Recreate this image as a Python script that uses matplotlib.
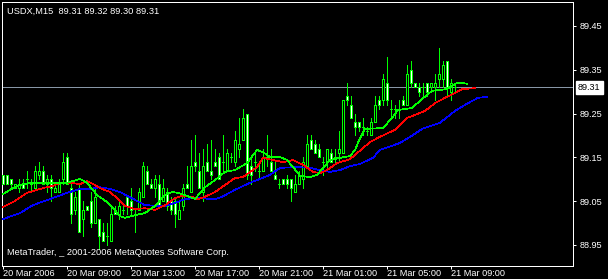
import matplotlib
matplotlib.use("Agg")
import matplotlib.pyplot as plt
import matplotlib.transforms as mtransforms
import numpy as np

plt.rcParams['font.family'] = ['Liberation Sans', 'DejaVu Sans']

# ---- data: USDX M15 candles (bar 0 = 20 Mar 2006 05:00) ----
opens = [89.11, 89.11, 89.10, 89.08, 89.08, 89.09, 89.10, 89.09, 89.08, 89.11,
         89.12, 89.09, 89.10, 89.07, 89.07, 89.10, 89.15, 89.08, 89.03, 89.08,
         89.01, 89.04, 89.05, 89.00, 89.01, 88.98, 88.97, 88.96, 89.03, 89.02,
         89.03, 89.06, 89.05, 89.02, 89.03, 89.06, 89.12, 89.09, 89.08, 89.09,
         89.05, 89.07, 89.05, 89.05, 89.01, 89.04, 89.09, 89.07, 89.14, 89.12,
         89.07, 89.14, 89.12, 89.14, 89.15, 89.14, 89.12, 89.15, 89.14, 89.17,
         89.19, 89.25, 89.13, 89.14, 89.12, 89.12, 89.15, 89.14, 89.11, 89.09,
         89.10, 89.10, 89.10, 89.07, 89.09, 89.10, 89.13, 89.19, 89.18, 89.17,
         89.14, 89.14, 89.16, 89.15, 89.16, 89.16, 89.29, 89.27, 89.23, 89.23,
         89.22, 89.21, 89.20, 89.23, 89.28, 89.28, 89.32, 89.26, 89.26, 89.26,
         89.28, 89.27, 89.35, 89.32, 89.31, 89.31, 89.32, 89.31, 89.31, 89.33,
         89.33, 89.37, 89.30, 89.31]
highs = [89.11, 89.11, 89.10, 89.09, 89.10, 89.10, 89.12, 89.10, 89.13, 89.14,
         89.13, 89.11, 89.11, 89.09, 89.10, 89.16, 89.16, 89.09, 89.07, 89.09,
         89.05, 89.04, 89.07, 89.08, 89.01, 89.00, 89.00, 89.04, 89.04, 89.05,
         89.04, 89.06, 89.08, 89.03, 89.08, 89.14, 89.13, 89.10, 89.11, 89.11,
         89.10, 89.08, 89.06, 89.06, 89.05, 89.09, 89.13, 89.19, 89.20, 89.16,
         89.17, 89.18, 89.19, 89.17, 89.16, 89.20, 89.17, 89.16, 89.21, 89.24,
         89.26, 89.25, 89.15, 89.16, 89.14, 89.17, 89.20, 89.17, 89.14, 89.10,
         89.10, 89.11, 89.10, 89.11, 89.12, 89.15, 89.20, 89.20, 89.19, 89.18,
         89.15, 89.17, 89.17, 89.17, 89.21, 89.28, 89.32, 89.29, 89.25, 89.23,
         89.24, 89.22, 89.24, 89.29, 89.29, 89.34, 89.38, 89.28, 89.27, 89.28,
         89.29, 89.36, 89.37, 89.32, 89.32, 89.32, 89.32, 89.32, 89.34, 89.40,
         89.37, 89.37, 89.33, 89.32]
lows = [89.09, 89.09, 89.08, 89.08, 89.07, 89.08, 89.08, 89.07, 89.08, 89.10,
        89.09, 89.07, 89.05, 89.07, 89.07, 89.09, 89.09, 89.00, 89.02, 88.98,
        88.97, 89.03, 88.99, 89.00, 88.94, 88.96, 88.95, 88.96, 89.02, 89.01,
        89.02, 89.02, 89.02, 88.98, 89.03, 89.06, 89.09, 89.08, 89.06, 89.04,
        89.05, 89.03, 89.02, 88.99, 89.01, 89.03, 89.08, 89.07, 89.12, 89.08,
        89.05, 89.12, 89.10, 89.13, 89.10, 89.12, 89.12, 89.14, 89.13, 89.15,
        89.19, 89.10, 89.09, 89.12, 89.10, 89.12, 89.13, 89.12, 89.10, 89.08,
        89.09, 89.08, 89.05, 89.07, 89.09, 89.08, 89.13, 89.17, 89.16, 89.15,
        89.11, 89.12, 89.14, 89.14, 89.14, 89.16, 89.27, 89.24, 89.20, 89.21,
        89.20, 89.20, 89.20, 89.23, 89.26, 89.27, 89.27, 89.24, 89.24, 89.24,
        89.27, 89.27, 89.31, 89.31, 89.29, 89.29, 89.29, 89.30, 89.28, 89.31,
        89.31, 89.29, 89.28, 89.30]
closes = [89.09, 89.09, 89.09, 89.09, 89.09, 89.08, 89.10, 89.09, 89.12, 89.12,
          89.09, 89.10, 89.08, 89.08, 89.09, 89.14, 89.09, 89.02, 89.06, 88.98,
          89.03, 89.03, 89.00, 89.06, 88.97, 88.96, 88.97, 89.02, 89.02, 89.04,
          89.03, 89.04, 89.03, 89.02, 89.07, 89.13, 89.09, 89.08, 89.10, 89.04,
          89.08, 89.04, 89.03, 89.02, 89.03, 89.08, 89.08, 89.13, 89.13, 89.08,
          89.13, 89.12, 89.11, 89.13, 89.10, 89.14, 89.16, 89.15, 89.19, 89.18,
          89.24, 89.11, 89.11, 89.14, 89.12, 89.15, 89.15, 89.12, 89.10, 89.09,
          89.09, 89.09, 89.08, 89.09, 89.11, 89.14, 89.18, 89.17, 89.16, 89.15,
          89.14, 89.17, 89.14, 89.15, 89.17, 89.28, 89.28, 89.24, 89.22, 89.22,
          89.22, 89.21, 89.23, 89.27, 89.27, 89.33, 89.28, 89.26, 89.26, 89.26,
          89.27, 89.34, 89.32, 89.31, 89.30, 89.31, 89.30, 89.32, 89.32, 89.34,
          89.36, 89.31, 89.32, 89.31]

# ---- Alligator lines (bar position, value) ----
jaw_pos = [0, 4.25, 7.5, 11.75, 16, 19.25, 21.75, 24.25, 26.75, 29.25, 33, 35.5,
           40.5, 43, 45.5, 48, 53, 54.75, 58, 61.75, 66.75, 69.25, 73.5, 76.75,
           79.25, 81.75, 84.25, 86.75, 89.25, 92.5, 94.25, 99.25, 102.5, 104.75,
           109.25, 113, 115.5, 118.75, 121]
jaw_val = [89.009, 89.023, 89.041, 89.055, 89.069, 89.078, 89.078, 89.082, 89.078,
           89.071, 89.053, 89.041, 89.039, 89.046, 89.055, 89.057, 89.055, 89.060,
           89.076, 89.092, 89.110, 89.126, 89.128, 89.126, 89.121, 89.117, 89.121,
           89.130, 89.135, 89.149, 89.167, 89.183, 89.201, 89.215, 89.229, 89.256,
           89.270, 89.286, 89.288]
teeth_pos = [0, 2.5, 6, 7.5, 10, 12.5, 14.25, 16.75, 19.25, 21, 23, 24.25, 26.75,
             28.5, 30.5, 33, 35.5, 38, 40.5, 43, 44.75, 47.25, 48.75, 50.5, 53,
             55.5, 58, 60, 63.5, 65, 67.5, 70, 72.5, 75, 77.5, 79.25, 81, 83.5,
             86.75, 91.75, 94.25, 98, 101, 103, 105.5, 108, 110.5, 113, 114.75, 118]
teeth_val = [89.037, 89.048, 89.069, 89.073, 89.080, 89.085, 89.092, 89.092, 89.089,
             89.096, 89.087, 89.080, 89.071, 89.057, 89.039, 89.032, 89.034, 89.030,
             89.041, 89.057, 89.062, 89.060, 89.055, 89.060, 89.071, 89.087, 89.103,
             89.105, 89.128, 89.149, 89.144, 89.139, 89.144, 89.133, 89.117, 89.114,
             89.121, 89.137, 89.146, 89.185, 89.197, 89.213, 89.240, 89.247, 89.256,
             89.274, 89.286, 89.297, 89.306, 89.308]
lips_pos = [0, 1.75, 4.25, 6.75, 11.75, 16, 19.25, 21, 23.5, 26, 27.5, 29.25, 30.5,
            33, 35.5, 38, 40.5, 42.25, 43.75, 45.5, 48, 50.5, 53, 55.5, 58, 61,
            63.5, 65, 66.75, 69.25, 71, 72.5, 74.25, 76.75, 78.5, 80, 81.75, 84.25,
            86.75, 88, 89.25, 90.5, 95, 97.25, 98.75, 102.25, 104.25, 107.25, 111,
            113.5, 115, 116]
lips_val = [89.066, 89.076, 89.087, 89.092, 89.092, 89.092, 89.101, 89.092, 89.064,
            89.048, 89.034, 89.016, 89.012, 89.018, 89.023, 89.039, 89.064, 89.071,
            89.069, 89.064, 89.055, 89.082, 89.098, 89.117, 89.121, 89.137, 89.167,
            89.162, 89.151, 89.151, 89.144, 89.128, 89.108, 89.105, 89.110, 89.126,
            89.144, 89.149, 89.153, 89.167, 89.194, 89.215, 89.217, 89.240, 89.258,
            89.263, 89.279, 89.302, 89.306, 89.320, 89.320, 89.318]

tick_bars = [0, 16, 32, 48, 64, 80, 96, 112]
tick_labels = ["20 Mar 2006", "20 Mar 09:00", "20 Mar 13:00", "20 Mar 17:00",
               "20 Mar 21:00", "21 Mar 01:00", "21 Mar 05:00", "21 Mar 09:00"]
price_ticks = [88.95, 89.05, 89.15, 89.25, 89.35, 89.45]
bid = 89.31
header = "USDX,M15  89.31 89.32 89.30 89.31"
copyright_text = "MetaTrader, _ 2001-2006 MetaQuotes Software Corp."

# ---- figure ----
W, H = 608, 279
fig = plt.figure(figsize=(W / 100, H / 100), dpi=100, facecolor='black')
ax = fig.add_axes([2 / W, (H - 266) / H, 571 / W, 264 / H], facecolor='black')

LIME = '#00ff00'
lw = 0.6
mlw = 0.5

o = np.array(opens); h = np.array(highs); l = np.array(lows); c = np.array(closes)
idx = np.arange(len(o))

ax.axhline(bid, color='#8796a6', lw=lw, zorder=1, antialiased=False)

ax.vlines(idx, l, h, color=LIME, lw=lw, zorder=2, antialiased=False)
bottoms = np.minimum(o, c)
heights = np.abs(c - o)
fills = ['black' if cc > oo else 'white' for oo, cc in zip(o, c)]
ax.bar(idx, heights, bottom=bottoms, width=0.5, color=fills, edgecolor=LIME,
       linewidth=lw, zorder=3, antialiased=False)

ax.plot(jaw_pos, jaw_val, color='#0000ff', lw=mlw, zorder=4, antialiased=False)
ax.plot(teeth_pos, teeth_val, color='#ff0000', lw=mlw, zorder=4, antialiased=False)
ax.plot(lips_pos, lips_val, color=LIME, lw=mlw, zorder=4, antialiased=False)

ax.set_xlim(-0.25, -0.25 + 571 / 4)
ax.set_ylim(89.45 - 240 / 438, 89.45 + 24 / 438)

for s in ax.spines.values():
    s.set_color('white')
    s.set_linewidth(0.72)

ax.set_xticks(tick_bars)
ax.set_xticklabels(tick_labels, ha='left')
ax.set_yticks(price_ticks)
ax.set_yticklabels([f"{v:.2f}" for v in price_ticks])
ax.yaxis.tick_right()
ax.tick_params(axis='both', colors='white', length=2.5, width=0.72, labelsize=6.6,
               direction='out')
ax.tick_params(axis='x', pad=-0.5)
ax.tick_params(axis='y', pad=2.5)
for t in ax.get_xticklabels():
    t.set_color('white')
for t in ax.get_yticklabels():
    t.set_color('white')

trans = mtransforms.blended_transform_factory(ax.transAxes, ax.transData)
ax.text(1.0 + 5 / 571, bid, f"{bid:.2f}", transform=trans, color='black',
        fontsize=6.6, va='center', ha='left', zorder=6, clip_on=False,
        bbox=dict(boxstyle='square,pad=0.25', facecolor='white', edgecolor='white'))

fig.text(7 / W, 1 - 11 / H, header, color='white', fontsize=6.7, va='center', ha='left')
fig.text(7 / W, 1 - 252.5 / H, copyright_text, color='white', fontsize=6.7,
         va='center', ha='left')

fig.savefig("out.png", dpi=100, facecolor='black')
